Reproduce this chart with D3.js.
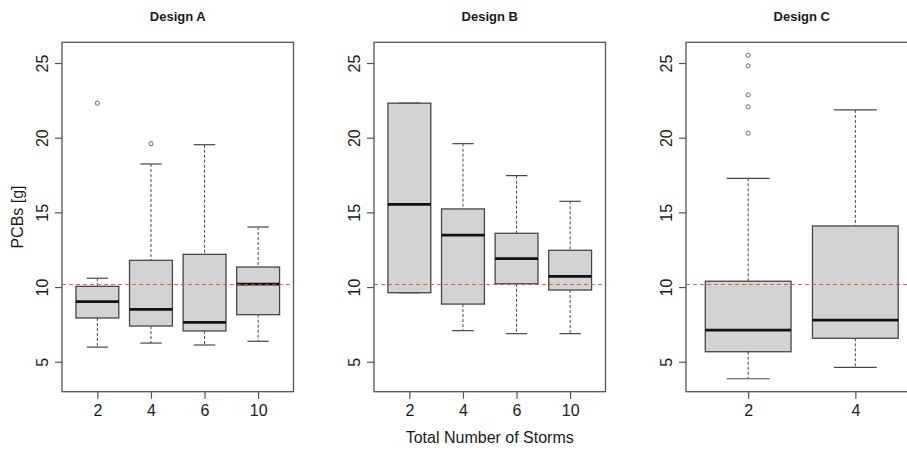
<!DOCTYPE html>
<html>
<head>
<meta charset="utf-8">
<script src="https://cdn.jsdelivr.net/npm/d3@7"></script>
<style>
  html, body { margin: 0; padding: 0; background: #fff; }
  svg { display: block; }
  text { font-family: "Liberation Sans", Arial, sans-serif; fill: #1a1a1a; }
</style>
</head>
<body>
<svg id="chart" width="907" height="453"></svg>
<script>
// ---------- data ----------
const designs = ["Design A", "Design B", "Design C"];
const stormsA = ["2", "4", "6", "10"];
const stormsB = ["2", "4", "6", "10"];
const stormsC = ["2", "4"];

const lowA  = [5.98, 6.25, 6.12, 6.37];
const q1A   = [7.93, 7.39, 7.06, 8.15];
const medA  = [9.02, 8.51, 7.64, 10.20];
const q3A   = [10.05, 11.79, 12.19, 11.34];
const highA = [10.59, 18.24, 19.53, 14.02];
const outA  = [[22.31], [19.60], [], []];

const lowB  = [9.62, 7.08, 6.88, 6.88];
const q1B   = [9.62, 8.86, 10.22, 9.80];
const medB  = [15.54, 13.47, 11.90, 10.72];
const q3B   = [22.31, 15.23, 13.60, 12.46];
const highB = [22.31, 19.60, 17.46, 15.74];
const outB  = [[], [], [], []];

const lowC  = [3.86, 4.62];
const q1C   = [5.67, 6.57];
const medC  = [7.12, 7.79];
const q3C   = [10.39, 14.09];
const highC = [17.28, 21.86];
const outC  = [[20.30, 22.06, 22.86, 24.81, 25.52], []];

const refLine = 10.17;
const yTicks = [5, 10, 15, 20, 25];
const yLabel = "PCBs [g]";
const xLabel = "Total Number of Storms";

// ---------- build ----------
function build(cats, lo, q1, md, q3, hi, out) {
  return cats.map((c, i) => ({ cat: c, idx: i + 1, lo: lo[i], q1: q1[i], med: md[i], q3: q3[i], hi: hi[i], out: out[i] }));
}
const panelsData = [
  build(stormsA, lowA, q1A, medA, q3A, highA, outA),
  build(stormsB, lowB, q1B, medB, q3B, highB, outB),
  build(stormsC, lowC, q1C, medC, q3C, highC, outC)
];

const svg = d3.select("#chart");
const plotTop = 42.3, plotBottom = 391.7;
const panelLeft = [62, 374, 686];
const panelWidth = 231.5;

// shared y range (R style 4% extension of data range)
const allVals = [lowA, highA, lowB, highB, lowC, highC].flat().concat(outA.flat(), outB.flat(), outC.flat());
const yMin = d3.min(allVals), yMax = d3.max(allVals);
const pad = (yMax - yMin) * 0.04;
const y = d3.scaleLinear().domain([yMin - pad, yMax + pad]).range([plotBottom, plotTop]);

const lineCol = "#474747";

panelsData.forEach((data, p) => {
  const n = data.length;
  const left = panelLeft[p], right = left + panelWidth;
  const x = d3.scaleLinear()
    .domain([0.5 - 0.04 * n, n + 0.5 + 0.04 * n])
    .range([left, right]);
  const half = x(1.4) - x(1);
  const stapleHalf = half / 2;

  const g = svg.append("g");

  const box = g.selectAll("g.box").data(data).enter().append("g").attr("class", "box");

  // whiskers (dashed)
  box.append("line")
    .attr("x1", d => x(d.idx)).attr("x2", d => x(d.idx))
    .attr("y1", d => y(d.hi)).attr("y2", d => y(d.q3))
    .attr("stroke", lineCol).attr("stroke-width", 1).attr("stroke-dasharray", "3,2");
  box.append("line")
    .attr("x1", d => x(d.idx)).attr("x2", d => x(d.idx))
    .attr("y1", d => y(d.q1)).attr("y2", d => y(d.lo))
    .attr("stroke", lineCol).attr("stroke-width", 1).attr("stroke-dasharray", "3,2");
  // staples
  box.append("line")
    .attr("x1", d => x(d.idx) - stapleHalf).attr("x2", d => x(d.idx) + stapleHalf)
    .attr("y1", d => y(d.hi)).attr("y2", d => y(d.hi))
    .attr("stroke", lineCol).attr("stroke-width", 1.2);
  box.append("line")
    .attr("x1", d => x(d.idx) - stapleHalf).attr("x2", d => x(d.idx) + stapleHalf)
    .attr("y1", d => y(d.lo)).attr("y2", d => y(d.lo))
    .attr("stroke", lineCol).attr("stroke-width", 1.2);

  // boxes
  box.append("rect")
    .attr("x", d => x(d.idx) - half)
    .attr("width", 2 * half)
    .attr("y", d => y(d.q3))
    .attr("height", d => y(d.q1) - y(d.q3))
    .attr("fill", "#d3d3d3")
    .attr("stroke", lineCol).attr("stroke-width", 1.3);

  // medians
  box.append("line")
    .attr("x1", d => x(d.idx) - half).attr("x2", d => x(d.idx) + half)
    .attr("y1", d => y(d.med)).attr("y2", d => y(d.med))
    .attr("stroke", "#111").attr("stroke-width", 2.8);

  // outliers
  box.each(function(d) {
    d3.select(this).selectAll("circle").data(d.out).enter().append("circle")
      .attr("cx", x(d.idx)).attr("cy", v => y(v)).attr("r", 2.1)
      .attr("fill", "none").attr("stroke", "#6a6a6a").attr("stroke-width", 1);
  });

  // reference line (drawn over boxes)
  g.append("line")
    .attr("x1", left).attr("x2", right)
    .attr("y1", y(refLine)).attr("y2", y(refLine))
    .attr("stroke", "#f03a3a").attr("stroke-width", 1.1)
    .attr("stroke-dasharray", "4,3").attr("opacity", 0.8);

  // frame
  g.append("rect")
    .attr("x", left).attr("y", plotTop)
    .attr("width", panelWidth).attr("height", plotBottom - plotTop)
    .attr("fill", "none").attr("stroke", "#555").attr("stroke-width", 1.3);

  // y axis
  const ya = g.append("g").attr("transform", `translate(${left},0)`)
    .call(d3.axisLeft(y).tickValues(yTicks).tickSize(7).tickFormat(d3.format("d")));
  ya.select(".domain").remove();
  ya.selectAll(".tick line").attr("stroke", "#555").attr("stroke-width", 1.2);
  ya.selectAll(".tick text")
    .attr("x", 0).attr("y", -13.7).attr("dy", "0")
    .attr("transform", "rotate(-90)")
    .attr("text-anchor", "middle")
    .style("font-size", "16px").style("font-family", "'Liberation Sans', Arial, sans-serif")
    .attr("fill", "#1a1a1a");

  // x axis
  const xa = g.append("g").attr("transform", `translate(0,${plotBottom})`)
    .call(d3.axisBottom(x).tickValues(data.map(d => d.idx)).tickSize(7)
      .tickFormat((v, i) => data[i].cat));
  xa.select(".domain").remove();
  xa.selectAll(".tick line").attr("stroke", "#555").attr("stroke-width", 1.2);
  xa.selectAll(".tick text")
    .attr("y", 24).attr("dy", "0")
    .style("font-size", "16px").style("font-family", "'Liberation Sans', Arial, sans-serif")
    .attr("fill", "#1a1a1a");

  // title
  svg.append("text")
    .attr("x", (left + right) / 2).attr("y", 21)
    .attr("text-anchor", "middle")
    .style("font-size", "13px").style("font-weight", "bold")
    .text(designs[p]);
});

// axis labels
svg.append("text")
  .attr("transform", `translate(22.5,${(plotTop + plotBottom) / 2}) rotate(-90)`)
  .attr("text-anchor", "middle")
  .style("font-size", "16px")
  .text(yLabel);

svg.append("text")
  .attr("x", panelLeft[1] + panelWidth / 2).attr("y", 443)
  .attr("text-anchor", "middle")
  .style("font-size", "16px")
  .text(xLabel);
</script>
</body>
</html>
